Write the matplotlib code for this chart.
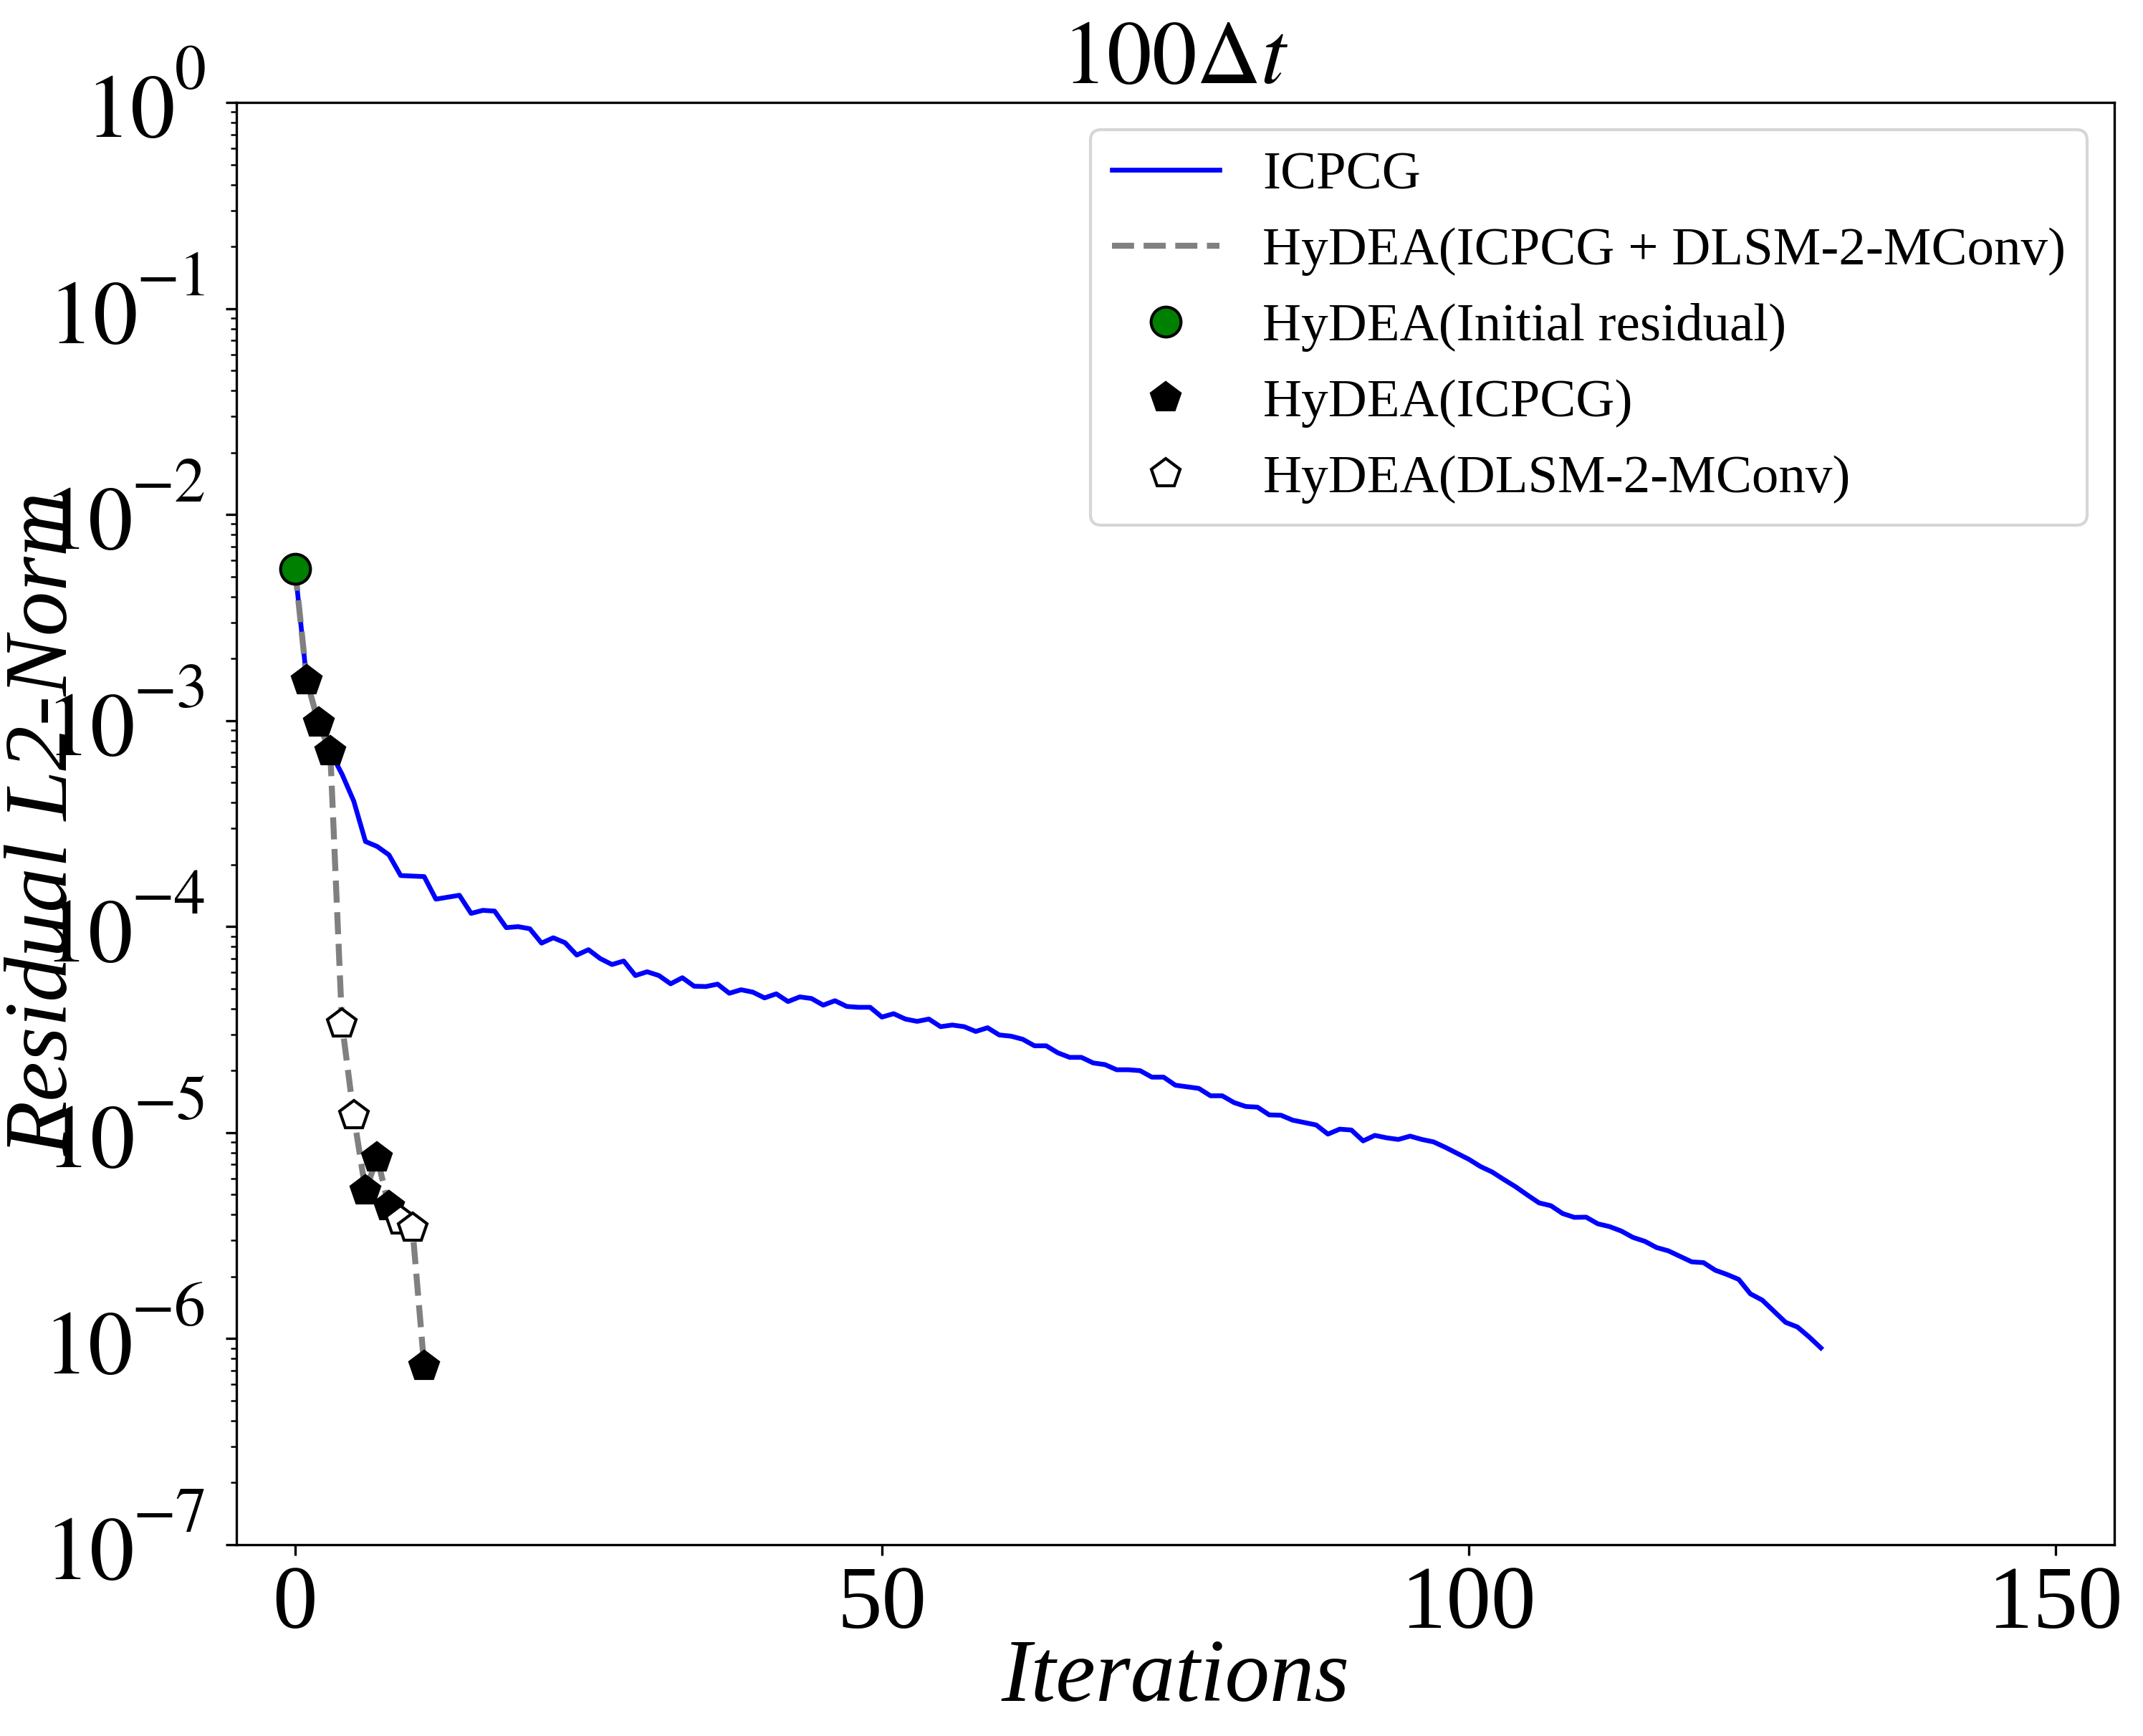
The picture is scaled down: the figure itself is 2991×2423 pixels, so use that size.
"""
Residual convergence at 100 dt: ICPCG vs HyDEA (ICPCG + DLSM-2-MConv).
"""
import matplotlib
matplotlib.use("Agg")
import matplotlib.pyplot as plt
from matplotlib.transforms import blended_transform_factory, ScaledTranslation

plt.rcParams["font.family"] = ["Liberation Serif", "DejaVu Serif"]
plt.rcParams["mathtext.fontset"] = "stix"

# ---------------------------------------------------------------------------
# Data
# ---------------------------------------------------------------------------

icpcg_res = [
    5.46e-3, 1.56e-3, 9.75e-4, 7.06e-4, 5.50e-4, 4.07e-4, 2.59e-4, 2.45e-4,
    2.23e-4, 1.77e-4, 1.76e-4, 1.75e-4, 1.36e-4, 1.39e-4, 1.42e-4, 1.16e-4,
    1.20e-4, 1.19e-4, 9.89e-5, 1.00e-4, 9.77e-5, 8.32e-5, 8.83e-5, 8.36e-5,
    7.28e-5, 7.73e-5, 7.00e-5, 6.55e-5, 6.81e-5, 5.79e-5, 6.04e-5, 5.79e-5,
    5.28e-5, 5.65e-5, 5.14e-5, 5.12e-5, 5.26e-5, 4.75e-5, 4.94e-5, 4.81e-5,
    4.51e-5, 4.72e-5, 4.33e-5, 4.56e-5, 4.48e-5, 4.16e-5, 4.37e-5, 4.10e-5,
    4.06e-5, 4.06e-5, 3.64e-5, 3.78e-5, 3.56e-5, 3.47e-5, 3.56e-5, 3.27e-5,
    3.33e-5, 3.27e-5, 3.10e-5, 3.23e-5, 2.98e-5, 2.94e-5, 2.84e-5, 2.64e-5,
    2.64e-5, 2.44e-5, 2.32e-5, 2.32e-5, 2.18e-5, 2.14e-5, 2.02e-5, 2.02e-5,
    2.00e-5, 1.86e-5, 1.86e-5, 1.70e-5, 1.67e-5, 1.64e-5, 1.51e-5, 1.51e-5,
    1.40e-5, 1.34e-5, 1.33e-5, 1.22e-5, 1.215e-5, 1.15e-5, 1.12e-5, 1.09e-5,
    9.84e-6, 1.04e-5, 1.03e-5, 9.12e-6, 9.70e-6, 9.44e-6, 9.27e-6, 9.62e-6,
    9.27e-6, 9.02e-6, 8.49e-6, 7.94e-6, 7.43e-6, 6.85e-6, 6.44e-6, 5.92e-6,
    5.46e-6, 4.98e-6, 4.56e-6, 4.42e-6, 4.05e-6, 3.88e-6, 3.89e-6, 3.61e-6,
    3.50e-6, 3.33e-6, 3.10e-6, 2.97e-6, 2.77e-6, 2.67e-6, 2.51e-6, 2.36e-6,
    2.34e-6, 2.15e-6, 2.05e-6, 1.94e-6, 1.65e-6, 1.54e-6, 1.36e-6, 1.20e-6,
    1.14e-6, 1.02e-6, 9.02e-7,
]
icpcg_iters = list(range(len(icpcg_res)))

hydea_res = [5.46e-3, 1.56e-3, 9.75e-4, 7.06e-4, 3.37e-5, 1.21e-5,
             5.24e-6, 7.55e-6, 4.38e-6, 3.72e-6, 3.44e-6, 7.35e-7]
hydea_iters = list(range(len(hydea_res)))

# which HyDEA step was done by which solver
init_idx = [0]
icpcg_idx = [1, 2, 3, 6, 7, 8, 11]
dlsm_idx = [4, 5, 9, 10]

xtick_vals = [0, 50, 100, 150]
ytick_exps = [0, -1, -2, -3, -4, -5, -6, -7]

# ---------------------------------------------------------------------------
# Plot
# ---------------------------------------------------------------------------

fig = plt.figure(figsize=(2991 / 300, 2423 / 300), dpi=300)
ax = fig.add_axes([0.1103, 0.1102, 0.8763, 0.8307])

ax.plot(icpcg_iters, icpcg_res, "-", color="blue", linewidth=1.6, label="ICPCG")
ax.plot(hydea_iters, hydea_res, "--", color="gray", linewidth=2,
        label="HyDEA(ICPCG + DLSM-2-MConv)")

ax.plot([hydea_iters[i] for i in init_idx], [hydea_res[i] for i in init_idx],
        "o", linestyle="none", markersize=10, markerfacecolor="green",
        markeredgecolor="black", label="HyDEA(Initial residual)")
ax.plot([hydea_iters[i] for i in icpcg_idx], [hydea_res[i] for i in icpcg_idx],
        "p", linestyle="none", markersize=10, markerfacecolor="black",
        markeredgecolor="black", label="HyDEA(ICPCG)")
ax.plot([hydea_iters[i] for i in dlsm_idx], [hydea_res[i] for i in dlsm_idx],
        "p", linestyle="none", markersize=10, markerfacecolor="white",
        markeredgecolor="black", label="HyDEA(DLSM-2-MConv)")

ax.set_yscale("log")
ax.set_ylim(1e-7, 1e0)
ax.set_xlim(-5, 155)
ax.set_xticks(xtick_vals)
ax.tick_params(axis="both", labelsize=30)

# y tick labels drawn by hand: the exponents sit higher than mathtext puts them
ax.tick_params(axis="y", labelleft=False)
ytrans = blended_transform_factory(ax.transAxes, ax.transData)
exp_off = ScaledTranslation(-10.5 / 72, 4.5 / 72, fig.dpi_scale_trans)
for e in ytick_exps:
    t_exp = ax.text(0, 10.0 ** e, r"$%d$" % e, transform=ytrans + exp_off,
                    ha="right", va="baseline", fontsize=21)
    ax.annotate(r"$10$", xy=(0, 0), xycoords=t_exp, xytext=(0.2, -11.5),
                textcoords="offset points", ha="right", va="baseline",
                fontsize=30)

ax.set_title(r"$100\Delta t$", fontsize=30)
ax.set_xlabel("Iterations", fontsize=30, fontstyle="italic", labelpad=-3)
ax.set_ylabel("Residual L2-Norm", fontsize=30, fontstyle="italic")
ax.yaxis.set_label_coords(-0.08, 0.5)

ax.legend(loc="upper right", fontsize=18)

fig.savefig("out.png", dpi=300)
plt.close(fig)
